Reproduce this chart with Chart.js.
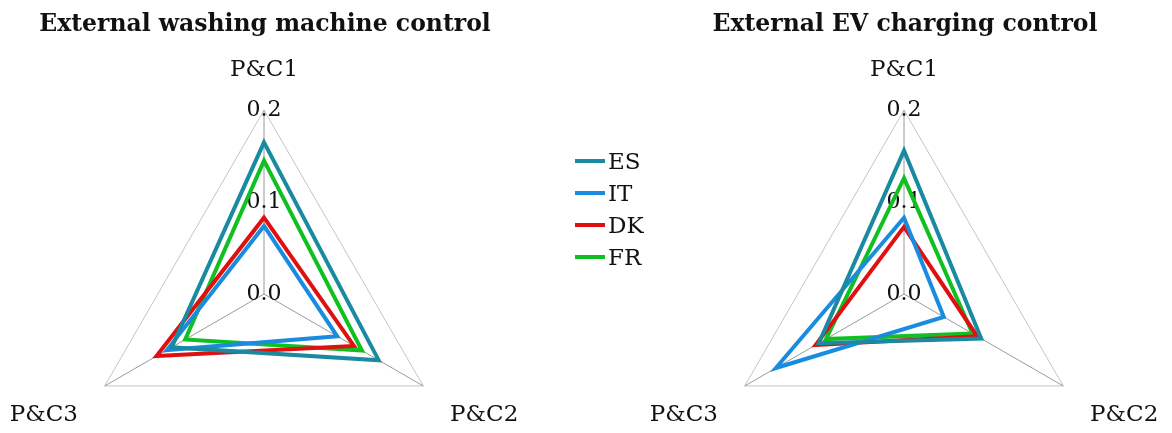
<!DOCTYPE html>
<html>
<head>
<meta charset="utf-8">
<script src="https://cdn.jsdelivr.net/npm/chart.js@4.4.0/dist/chart.umd.min.js"></script>
<style>
  html, body { margin: 0; background: #fff; overflow: hidden; }
  #wrap { position: relative; width: 1172px; height: 433px; overflow: hidden; }
  .box { position: absolute; top: 0; height: 584px; width: 530px; }
  .title { position: absolute; top: 9px; width: 530px; text-align: center;
           font: bold 23.5px "DejaVu Serif", serif; color: #111; }
  #legend { position: absolute; left: 575px; top: 145px; font: 23px "DejaVu Serif", serif; color: #111; }
  #legend div { height: 32px; display: flex; align-items: center; }
  #legend span { display: inline-block; width: 30px; height: 4px; margin-right: 3px; }
</style>
</head>
<body>
<div id="wrap">
  <div class="box" style="left:0"><canvas id="washChart"></canvas></div>
  <div class="box" style="left:640px"><canvas id="evChart"></canvas></div>
  <div class="title" style="left:0">External washing machine control</div>
  <div class="title" style="left:640px">External EV charging control</div>
  <div id="legend"></div>
</div>
<script>
const axisLabels = ['P&C1', 'P&C2', 'P&C3'];
const countries = ['ES', 'IT', 'DK', 'FR'];
const colors = ['#1a8aa0', '#1a8ce0', '#e01010', '#10c020'];
const tickValues = [0, 0.1, 0.2];

// External washing machine control
const washES = [0.165, 0.144, 0.116];
const washIT = [0.074, 0.092, 0.122];
const washDK = [0.083, 0.113, 0.135];
const washFR = [0.145, 0.123, 0.099];

// External EV charging control
const evES = [0.156, 0.097, 0.107];
const evIT = [0.083, 0.050, 0.161];
const evDK = [0.073, 0.092, 0.111];
const evFR = [0.126, 0.086, 0.098];

const serif = '"DejaVu Serif", serif';

function makeRadar(id, series) {
  new Chart(document.getElementById(id), {
    type: 'radar',
    data: {
      labels: axisLabels,
      datasets: series.map((s, i) => ({
        label: countries[i],
        data: s,
        borderColor: colors[i],
        borderWidth: 4,
        borderJoinStyle: 'miter',
        fill: false,
        pointRadius: 0,
        pointHoverRadius: 0
      }))
    },
    options: {
      responsive: true,
      maintainAspectRatio: false,
      animation: false,
      layout: { padding: { left: 9, right: 9, top: 0, bottom: 0 } },
      plugins: {
        legend: { display: false },
        tooltip: { enabled: false }
      },
      scales: {
        r: {
          min: -1e-9,
          max: 0.2,
          afterBuildTicks: s => { s.ticks = tickValues.map(v => ({ value: v })); },
          angleLines: { color: '#9a9a9a', lineWidth: 1 },
          grid: {
            color: c => c.index === tickValues.length - 1 ? '#c4c4c4' : 'rgba(0,0,0,0)',
            lineWidth: 1
          },
          ticks: {
            showLabelBackdrop: false,
            color: '#111',
            font: { family: serif, size: 22 },
            callback: v => v.toFixed(1)
          },
          pointLabels: {
            color: '#111',
            font: { family: serif, size: 23 },
            padding: c => c.index === 0 ? 13 : 18
          }
        }
      }
    }
  });
}

makeRadar('washChart', [washES, washIT, washDK, washFR]);
makeRadar('evChart', [evES, evIT, evDK, evFR]);

const legendEl = document.getElementById('legend');
countries.forEach((c, i) => {
  const row = document.createElement('div');
  row.innerHTML = '<span style="background:' + colors[i] + '"></span>' + c;
  legendEl.appendChild(row);
});
</script>
</body>
</html>
